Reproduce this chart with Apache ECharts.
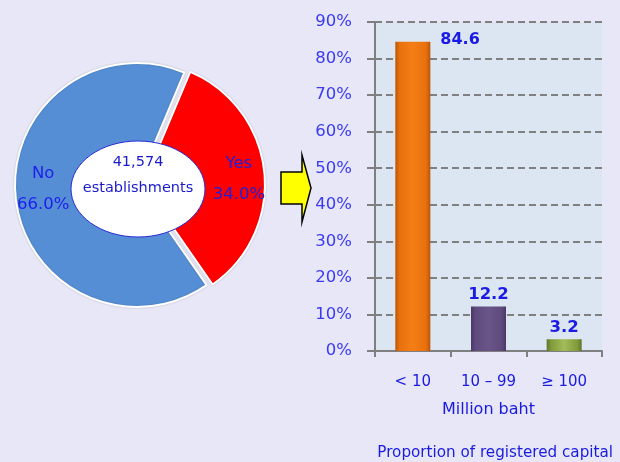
<!DOCTYPE html>
<html>
<head>
<meta charset="utf-8">
<script src="https://cdn.jsdelivr.net/npm/echarts@6/dist/echarts.min.js"></script>
<style>
html,body{margin:0;padding:0;background:#E7E7F8;}
#c{width:620px;height:462px;}
</style>
</head>
<body>
<div id="c"></div>
<script>
// ---- data ----
var pieNames = ['Yes', 'No'];
var pieValues = [34.0, 66.0];
var totalText = '41,574';
var totalUnit = 'establishments';

var categories = ['< 10', '10 – 99', '≥ 100'];
var barValues = [84.6, 12.2, 3.2];
var yTicks = [0, 10, 20, 30, 40, 50, 60, 70, 80, 90];
var xAxisName = 'Million baht';
var chartCaption = 'Proportion of registered capital';

// ---- styles ----
var FONT = 'DejaVu Sans';
var pieColors = ['#FF0000', '#558ED5'];
function grad(dark, mid, light) {
  return new echarts.graphic.LinearGradient(0, 0, 1, 0, [
    {offset: 0, color: dark}, {offset: 0.12, color: mid},
    {offset: 0.5, color: light}, {offset: 0.88, color: mid}, {offset: 1, color: dark}
  ]);
}
var barStyles = [
  grad('#B85508', '#E8700E', '#F47E16'),
  grad('#4A3763', '#5F4A7E', '#6A5589'),
  grad('#5E7428', '#7F9A3A', '#A2BC5A')
];
var half = pieValues[0] / 2 * 3.6;

var chart = echarts.init(document.getElementById('c'), null, {renderer: 'canvas'});
var option = {
  backgroundColor: '#E7E7F8',
  animation: false,
  textStyle: {fontFamily: FONT},
  title: {
    text: chartCaption, right: 2, top: 441,
    textStyle: {fontFamily: FONT, fontSize: 15.2, fontWeight: 'normal', color: '#1A1AE0'}
  },
  grid: {left: 375, right: 18, top: 22, bottom: 111, show: true, backgroundColor: '#DCE5F2', borderWidth: 0},
  xAxis: {
    type: 'category', data: categories,
    name: xAxisName, nameLocation: 'middle', nameGap: 51,
    nameTextStyle: {fontFamily: FONT, fontSize: 16, color: '#1A1AE0'},
    axisLine: {lineStyle: {color: '#7F7F7F', width: 2}},
    axisTick: {show: true, alignWithLabel: false, length: 6, lineStyle: {color: '#7F7F7F', width: 2}},
    axisLabel: {fontFamily: FONT, fontSize: 15, color: '#1A1AE0', margin: 24}
  },
  yAxis: {
    type: 'value', min: yTicks[0], max: yTicks[yTicks.length - 1], interval: 10,
    axisLine: {show: true, lineStyle: {color: '#7F7F7F', width: 2}},
    axisTick: {show: true, length: 8, lineStyle: {color: '#7F7F7F', width: 2}},
    axisLabel: {fontFamily: FONT, fontSize: 16.5, color: '#3A3AF2', margin: 23, formatter: '{value}%'},
    splitLine: {lineStyle: {color: '#808080', width: 2, type: [7, 4]}}
  },
  series: [
    {
      type: 'pie', center: [137, 185], radius: [0, 122],
      startAngle: half + 6, clockwise: true,
      selectedMode: 'single', selectedOffset: 6,
      silent: true,
      itemStyle: {borderColor: '#FFFFFF', borderWidth: 2, shadowColor: 'rgba(0,0,0,0.18)', shadowBlur: 2},
      label: {show: false}, labelLine: {show: false},
      data: pieNames.map(function (n, i) {
        return {name: n, value: pieValues[i], selected: i === 0, itemStyle: {color: pieColors[i]}};
      })
    },
    {
      type: 'pie', center: [141, 184], radius: [0, 190],
      startAngle: half + 3, clockwise: true, silent: true, z: 5,
      itemStyle: {color: 'rgba(0,0,0,0)', borderWidth: 0},
      label: {
        show: true, position: 'inside', fontFamily: FONT, fontSize: 16.5, lineHeight: 31,
        formatter: function (p) { return p.name + '\n' + p.value.toFixed(1) + '%'; }
      },
      labelLine: {show: false},
      data: pieNames.map(function (n, i) {
        return {name: n, value: pieValues[i],
          label: {color: i === 0 ? '#2020D8' : '#1E1EEE'}};
      })
    },
    {
      type: 'bar', barWidth: 35,
      data: barValues.map(function (v, i) {
        var lab = i === 0
          ? {show: true, position: [45, -10], fontFamily: FONT, fontSize: 16, fontWeight: 'bold', color: '#1A1AE6'}
          : {show: true, position: 'top', distance: 3, fontFamily: FONT, fontSize: 16.5, fontWeight: 'bold', color: '#1A1AE6'};
        return {value: v, itemStyle: {color: barStyles[i]}, label: lab};
      })
    }
  ],
  graphic: [
    {type: 'ellipse', z: 100, shape: {cx: 138, cy: 189, rx: 67, ry: 48},
     style: {fill: '#FFFFFF', stroke: '#2A2AD8', lineWidth: 1}},
    {type: 'text', z: 101, x: 138, y: 162,
     style: {text: totalText, fill: '#1A1ACC', font: '14.5px "DejaVu Sans"', textAlign: 'center', textVerticalAlign: 'middle'}},
    {type: 'text', z: 101, x: 138, y: 188,
     style: {text: totalUnit, fill: '#1A1ACC', font: '14.5px "DejaVu Sans"', textAlign: 'center', textVerticalAlign: 'middle'}},
    {type: 'polygon', z: 100,
     shape: {points: [[281, 172], [302, 172], [302, 155], [311, 188], [302, 222], [302, 204], [281, 204]]},
     style: {fill: '#FFFF00', stroke: '#000000', lineWidth: 1.5}}
  ]
};
chart.setOption(option);
</script>
</body>
</html>
